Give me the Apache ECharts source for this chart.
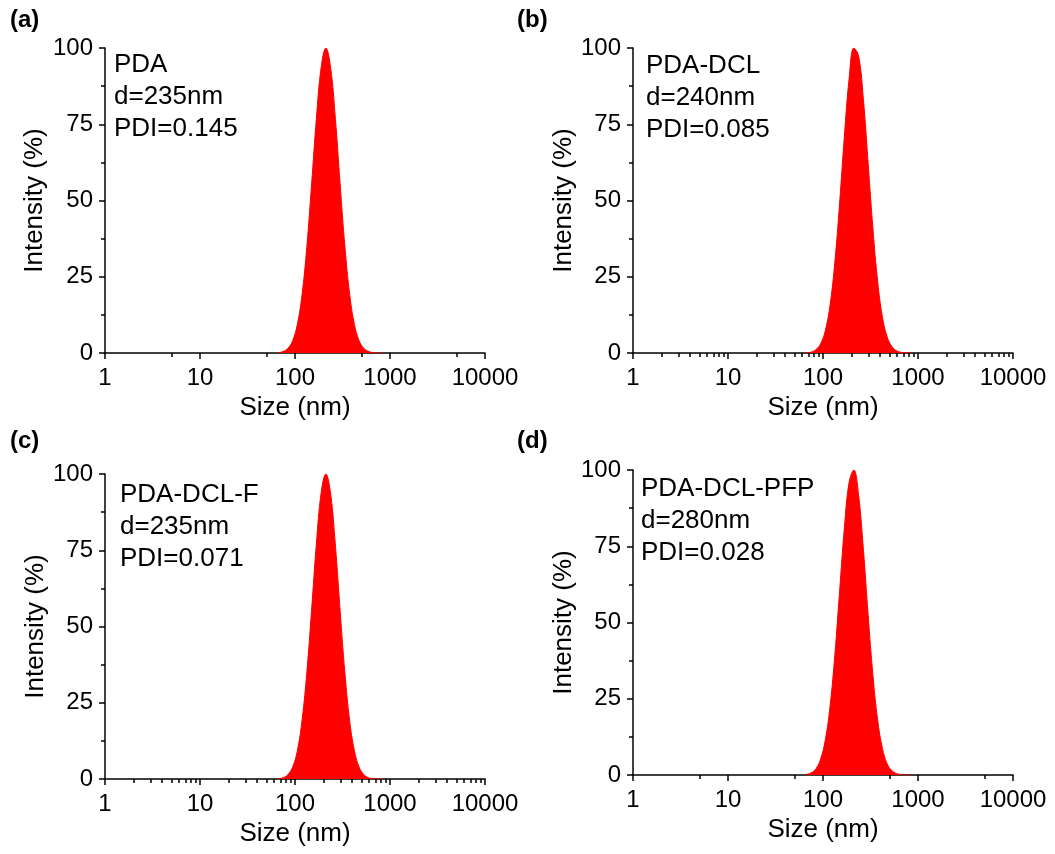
<!DOCTYPE html>
<html>
<head>
<meta charset="utf-8">
<script src="https://cdn.jsdelivr.net/npm/echarts@6/dist/echarts.min.js"></script>
<style>
html,body{margin:0;padding:0;background:#fff;}
#chart{width:1055px;height:854px;}
</style>
</head>
<body>
<div id="chart"></div>
<script>
// ---- data ----
const sizes = [66.8,75.0,84.1,94.4,105.9,118.9,133.4,149.6,167.9,188.4,211.3,237.1,266.1,298.5,335.0,375.8,421.7,473.2,530.9,595.7,668.3,749.9,841.4];
const intensityA = [0.1,0.5,1.5,4.0,9.4,19.4,35.0,55.4,76.9,93.6,100,93.6,76.9,55.4,35.0,19.4,9.4,4.0,1.5,0.5,0.1,0,0];
const intensityB = [0.1,0.3,1.1,3.0,7.4,15.9,29.9,49.2,71.1,90.0,100,97.4,83.2,62.3,41.0,23.6,11.9,5.3,2.1,0.7,0.2,0.1,0];
const intensityC = [0.1,0.4,1.4,3.9,9.3,19.5,35.2,55.6,77.1,93.8,100,93.5,76.7,55.2,34.8,19.2,9.3,3.9,1.4,0.4,0.1,0,0];
const intensityD = [0.2,0.7,2.0,5.2,11.6,22.8,39.5,60.3,81.1,96.0,100,91.7,74.0,52.6,32.9,18.1,8.8,3.7,1.4,0.5,0.1,0,0];

const panelLabels = ['(a)','(b)','(c)','(d)'];
const sampleNames = ['PDA','PDA-DCL','PDA-DCL-F','PDA-DCL-PFP'];
const diameters = ['d=235nm','d=240nm','d=235nm','d=280nm'];
const pdis = ['PDI=0.145','PDI=0.085','PDI=0.071','PDI=0.028'];

const xMajorTicks = [1,10,100,1000,10000];
const xMinorSparse = [5,50,500,5000];
const xMinorDense = [2,3,4,5,6,7,8,9,20,30,40,50,60,70,80,90,200,300,400,500,600,700,800,900,2000,3000,4000,5000,6000,7000,8000,9000];
const yTicks = [0,25,50,75,100];
const xTitle = 'Size (nm)';
const yTitle = 'Intensity (%)';

// ---- layout ----
const intensities = [intensityA, intensityB, intensityC, intensityD];
const minorSets = [xMinorSparse, xMinorDense, xMinorDense, xMinorSparse];
const panels = [
  {left:105, top:48,  yNameGap:57, textL:114, textT:49,  labL:10,  labT:8},
  {left:633, top:48,  yNameGap:45, textL:646, textT:50,  labL:517, labT:8},
  {left:105, top:474, yNameGap:51, textL:120, textT:479, labL:10,  labT:429},
  {left:633, top:470, yNameGap:44, textL:641, textT:473, labL:517, labT:429}
];
const W = 380, H = 305;
const FONT = '"Liberation Sans", Arial, sans-serif';
const black = '#000';

const grid = [], xAxis = [], yAxis = [], series = [], graphic = [];
panels.forEach((p, i) => {
  grid.push({left:p.left, top:p.top, width:W, height:H, containLabel:false});
  grid.push({left:p.left, top:p.top, width:W, height:H, containLabel:false});
  const g = 2*i;
  xAxis.push({
    gridIndex:g, type:'log', logBase:10, min:1, max:10000,
    axisLine:{show:true, lineStyle:{color:black, width:1.5}},
    axisTick:{show:true, inside:false, length:6, customValues:xMajorTicks, lineStyle:{color:black, width:1.5}},
    minorTick:{show:false},
    splitLine:{show:false},
    axisLabel:{show:true, customValues:xMajorTicks, fontSize:24, color:black, fontFamily:FONT, margin:13,
      formatter:(v)=>String(Math.round(v))},
    name:xTitle, nameLocation:'middle', nameGap:42,
    nameTextStyle:{fontSize:26, color:black, fontFamily:FONT}
  });
  xAxis.push({
    gridIndex:g+1, type:'log', logBase:10, min:1, max:10000,
    axisLine:{show:false},
    axisTick:{show:true, inside:false, length:4, customValues:minorSets[i], lineStyle:{color:black, width:1.5}},
    axisLabel:{show:false},
    splitLine:{show:false}
  });
  yAxis.push({
    gridIndex:g, type:'value', min:0, max:100, interval:25,
    axisLine:{show:true, lineStyle:{color:black, width:1.5}},
    axisTick:{show:true, inside:false, length:6, lineStyle:{color:black, width:1.5}},
    minorTick:{show:true, splitNumber:2, length:4, lineStyle:{color:black, width:1.5}},
    splitLine:{show:false}, minorSplitLine:{show:false},
    axisLabel:{fontSize:24, color:black, fontFamily:FONT, margin:12},
    name:yTitle, nameLocation:'middle', nameRotate:90, nameGap:p.yNameGap,
    nameTextStyle:{fontSize:26, color:black, fontFamily:FONT}
  });
  yAxis.push({gridIndex:g+1, type:'value', min:0, max:100, show:false});
  series.push({
    type:'line', xAxisIndex:g, yAxisIndex:g,
    data:sizes.map((s, k) => [s, intensities[i][k]]),
    smooth:0.4, symbol:'none', showSymbol:false,
    lineStyle:{color:'#ff0000', width:1},
    areaStyle:{color:'#ff0000', opacity:1},
    itemStyle:{color:'#ff0000'},
    z:1, silent:true, animation:false
  });
  graphic.push({
    type:'text', left:p.textL, top:p.textT, z:10,
    style:{text:[sampleNames[i], diameters[i], pdis[i]].join('\n'),
      fontSize:26, fontFamily:FONT, fill:black, lineHeight:32}
  });
  graphic.push({
    type:'text', left:p.labL, top:p.labT, z:10,
    style:{text:panelLabels[i], fontSize:24, fontWeight:'bold', fontFamily:FONT, fill:black}
  });
});

const chart = echarts.init(document.getElementById('chart'), null, {renderer:'canvas'});
chart.setOption({
  animation:false,
  backgroundColor:'#ffffff',
  textStyle:{fontFamily:FONT},
  grid, xAxis, yAxis, series, graphic
});
</script>
</body>
</html>
